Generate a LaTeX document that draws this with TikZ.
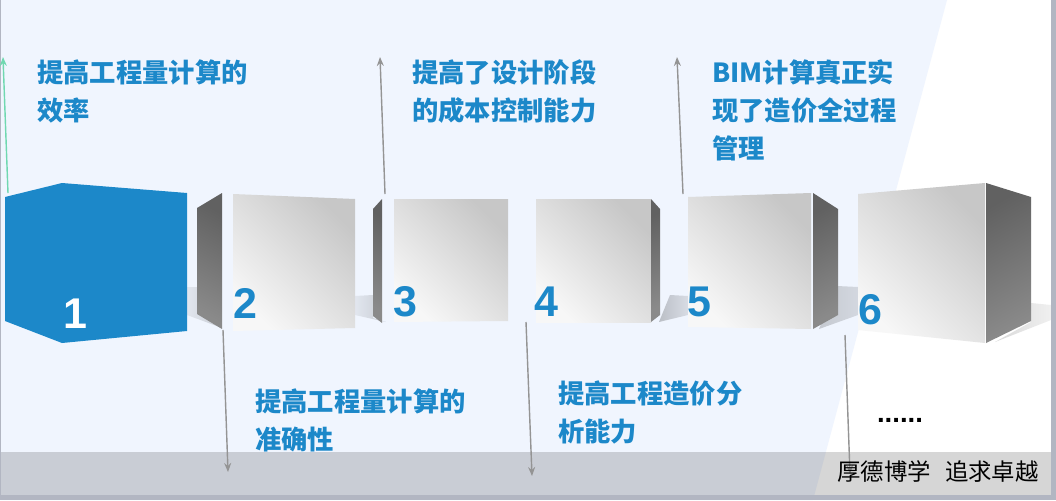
\documentclass[tikz,border=0pt]{standalone}
\usepackage{fontspec}
\setmainfont{Liberation Sans}
\newfontfamily\cjk{Noto Sans CJK SC}
\usetikzlibrary{positioning,arrows,calc,arrows.meta}
\definecolor{stepblue}{HTML}{1C88C9}
\definecolor{paleblue}{HTML}{F0F5FE}
\definecolor{edgegray}{HTML}{B2B6C2}
\definecolor{mint}{HTML}{70D8B0}
\tikzset{
	slide/.style={x=1pt,y=-1pt,>={Stealth[length=9pt,width=7pt]}},
	front/.style={shading=axis,bottom color=white!97!black,middle color=white!90!black,top color=white!78!black,shading angle=-45},
	side right/.style={shading=axis,top color=black!62,bottom color=black!46,shading angle=30},
	side left/.style={shading=axis,top color=black!62,bottom color=black!46,shading angle=-30},
	cast/.style={left color=black!6!paleblue,right color=black!17!paleblue},
	stepno/.style={font=\bfseries\fontsize{43}{43}\selectfont,text=stepblue,inner sep=0pt},
	benefit/.style={font=\cjk\bfseries\fontsize{26.3}{38}\selectfont,text=stepblue,align=left,anchor=west,inner sep=0pt},
	shot/.style={->,line width=1.4pt,draw=black!42,fill=black!42}
}
\begin{document}
\begin{tikzpicture}[slide]
	\useasboundingbox (0,0) rectangle (1056,500);
	\fill[white] (0,0) rectangle (1056,500);
	\fill[paleblue] (0,0) -- (947,0) -- (813,500) -- (0,500) -- cycle;
	
	% shadows on the floor
	\path[cast] (187,287) -- (197,287) -- (197,314) -- (222,328) -- (187,315) -- cycle;
	\path[cast] (355,296) -- (373,295) -- (373,318) -- (386,322) -- (355,315) -- cycle;
	\path[cast,left color=black!22!paleblue,right color=black!10!paleblue] (670,295) -- (688,296) -- (688,315) -- (659,322) -- cycle;
	\path[cast,left color=black!18!paleblue,right color=black!12!paleblue] (837,286) -- (858,287) -- (858,315) -- (819,329) -- cycle;
	\path[left color=black!15,right color=black!6] (1031,303) -- (1051,305) -- (1051,320) -- (995,342) -- (1031,322) -- cycle;
	
	% the six boxes
	\fill[stepblue] (5,197) -- (62,183) -- (187,193) -- (187,331) -- (62,343) -- (5,321) -- cycle;
	\path[side left] (197,208) -- (222,193) -- (222,329) -- (197,314) -- cycle;
	\path[front] (233,194) -- (355,199) -- (355,328) -- (233,331) -- cycle;
	\path[side left] (373,209) -- (382,199) -- (382,323) -- (373,316) -- cycle;
	\path[front] (394,199) -- (508,199) -- (508,321) -- (394,322) -- cycle;
	\path[front] (536,199) -- (651,199) -- (651,322) -- (536,322) -- cycle;
	\path[side right] (651,199) -- (660,209) -- (660,315) -- (651,322) -- cycle;
	\path[front] (688,197) -- (811,193) -- (811,329) -- (688,327) -- cycle;
	\path[side right] (813,193) -- (838,209) -- (838,315) -- (813,329) -- cycle;
	\path[front] (858,194) -- (985,183) -- (985,343) -- (858,330) -- cycle;
	\path[side right] (986,183) -- (1031,197) -- (1031,321) -- (986,343) -- cycle;
	
	\node[stepno,text=white] (one) at (75,314) {1};
	\node[stepno] (two) at (245,303) {2};
	\node[stepno] (three) at (405,302) {3};
	\node[stepno] (four) at (546,302) {4};
	\node[stepno] (five) at (699,302) {5};
	\node[stepno] (six) at (870,310) {6};
	
	% band along the bottom
	\fill[black,opacity=0.16] (0,452) rectangle (1056,495);
	\fill[edgegray] (0,495) rectangle (1056,500);
	\fill[edgegray] (1051,0) rectangle (1056,500);
	\fill[edgegray] (0,0) rectangle (1,500);
	
	\coordinate (a1) at (8,193);
	\coordinate (b1) at (3,57);
	\coordinate (a2) at (223,330);
	\coordinate (b2) at (228,472);
	\coordinate (a3) at (385,194);
	\coordinate (b3) at (380,57);
	\coordinate (a4) at (526,322);
	\coordinate (b4) at (532,476);
	\coordinate (a5) at (683,194);
	\coordinate (b5) at (677,57);
	\coordinate (a6) at (845,335);
	\coordinate (b6) at (850,474);
	
	\draw[shot,draw=mint,fill=mint] (a1) -- (b1);
	\draw[shot] (a2) -- (b2);
	\draw[shot] (a3) -- (b3);
	\draw[shot] (a4) -- (b4);
	\draw[shot] (a5) -- (b5);
	\draw[shot] (a6) -- (b6);
	
	\node[benefit] (eff) at (37,91) {提高工程量计算的\\效率};
	\node[benefit] (acc) at (255,420) {提高工程量计算的\\准确性};
	\node[benefit] (ctl) at (412,91) {提高了设计阶段\\的成本控制能力};
	\node[benefit] (ana) at (558,412) {提高工程造价分\\析能力};
	\node[benefit] (bim) at (712,110) {BIM计算真正实\\现了造价全过程\\管理};
	\node[inner sep=0pt,font=\bfseries\fontsize{27.5}{27.5}\selectfont] (more) at (900,420) {......};
	\node[inner sep=0pt,font=\cjk\fontsize{23.4}{23.4}\selectfont] (motto) at (938,472) {厚德博学\hspace{14pt}追求卓越};
\end{tikzpicture}
\end{document}
